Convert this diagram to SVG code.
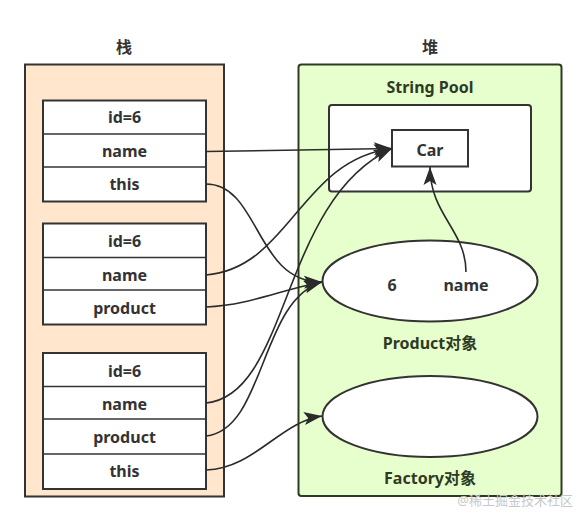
<svg xmlns="http://www.w3.org/2000/svg" width="587" height="522" viewBox="0 0 587 522">
<defs>
<style>
.t{font-family:"Noto Sans","Noto Sans CJK SC",sans-serif;font-weight:bold;font-size:16px;fill:#333;text-anchor:middle}
.g{fill:#2e3a24}
.cell{fill:#fff;stroke:#333;stroke-width:2}
.ln{fill:none;stroke:#333;stroke-width:1.6}
.c{fill:none;stroke:#2b2b2b;stroke-width:1.6}
</style>
<marker id="ah" markerUnits="userSpaceOnUse" markerWidth="20" markerHeight="14" refX="18" refY="6.5" orient="auto" viewBox="0 0 20 13">
<path d="M0,0 L18,6.5 L0,13 L4,6.5 Z" fill="#2b2b2b"/>
</marker>
</defs>
<rect width="587" height="522" fill="#fff"/>

<g id="stack">
<text class="t" x="124" y="53">栈</text>
<rect x="25" y="64.5" width="199" height="432" fill="#ffe6cc" stroke="#333" stroke-width="2"/>
</g>

<g id="frame1">
<rect class="cell" x="43" y="100.5" width="163" height="101"/>
<line class="ln" x1="43" y1="134" x2="206" y2="134"/>
<line class="ln" x1="43" y1="167" x2="206" y2="167"/>
<text class="t" x="124.5" y="123">id=6</text>
<text class="t" x="124.5" y="157">name</text>
<text class="t" x="124.5" y="190">this</text>
</g>

<g id="frame2">
<rect class="cell" x="43" y="223.5" width="163" height="101"/>
<line class="ln" x1="43" y1="257.5" x2="206" y2="257.5"/>
<line class="ln" x1="43" y1="290" x2="206" y2="290"/>
<text class="t" x="124.5" y="247">id=6</text>
<text class="t" x="124.5" y="281">name</text>
<text class="t" x="124.5" y="314">product</text>
</g>

<g id="frame3">
<rect class="cell" x="43" y="353" width="163" height="136"/>
<line class="ln" x1="43" y1="386.5" x2="206" y2="386.5"/>
<line class="ln" x1="43" y1="419" x2="206" y2="419"/>
<line class="ln" x1="43" y1="454" x2="206" y2="454"/>
<text class="t" x="124.5" y="377">id=6</text>
<text class="t" x="124.5" y="410">name</text>
<text class="t" x="124.5" y="443">product</text>
<text class="t" x="124.5" y="477">this</text>
</g>

<g id="heap">
<text class="t" x="430" y="53">堆</text>
<rect x="298.5" y="64.5" width="263" height="431.5" rx="3" fill="#e6ffcc" stroke="#2e3a24" stroke-width="2"/>
</g>

<g id="stringpool">
<text class="t g" x="430" y="93">String Pool</text>
<rect x="329" y="105" width="202" height="86.5" rx="3" fill="#fff" stroke="#333" stroke-width="2"/>
</g>

<g id="car">
<rect x="392" y="130" width="76" height="36.5" fill="#fff" stroke="#333" stroke-width="2"/>
<text class="t" x="430" y="156">Car</text>
</g>

<g id="product">
<ellipse cx="430" cy="281" rx="107.5" ry="40.5" fill="#fff" stroke="#333" stroke-width="2"/>
<text class="t" x="392" y="291">6</text>
<text class="t" x="466" y="291">name</text>
<text class="t g" x="430" y="349">Product对象</text>
</g>

<g id="factory">
<ellipse cx="430" cy="416.5" rx="107.5" ry="40.5" fill="#fff" stroke="#333" stroke-width="2"/>
<text class="t g" x="430" y="484">Factory对象</text>
</g>

<g id="connectors">
<path class="c" d="M206,151.5 L392,148.5" marker-end="url(#ah)"/>
<path class="c" d="M206,275 C290,268 300,160 392,148.5" marker-end="url(#ah)"/>
<path class="c" d="M206,403 C290,395 280,200 392,148.5" marker-end="url(#ah)"/>
<path class="c" d="M206,184 C260,184 255,283 322,282" marker-end="url(#ah)"/>
<path class="c" d="M206,307 C250,305 280,290 322,282" marker-end="url(#ah)"/>
<path class="c" d="M206,436 C265,430 260,300 322,282" marker-end="url(#ah)"/>
<path class="c" d="M206,470 C255,468 280,422 322,416" marker-end="url(#ah)"/>
<path class="c" d="M466,272 C466,230 430,215 430,167" marker-end="url(#ah)"/>
</g>

<text x="573" y="505" style="font-family:'Noto Sans','Noto Sans CJK SC',sans-serif;font-size:13px;fill:#c8c8c8;text-anchor:end">@稀土掘金技术社区</text>
</svg>
